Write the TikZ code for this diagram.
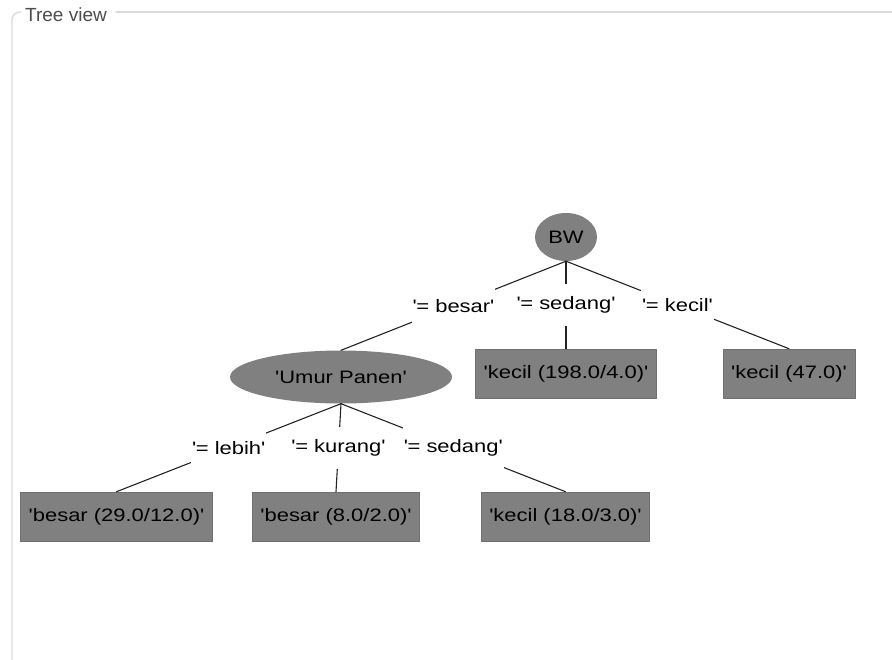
\documentclass[tikz,border=0pt]{standalone}
\usepackage{fontspec}
\setmainfont{Liberation Sans}
\newfontfamily\treefont[FakeStretch=1.22,Ligatures=TeXOff]{Liberation Sans}
\usetikzlibrary{shapes.geometric}
\definecolor{nodegray}{RGB}{128,128,128}
\definecolor{edgegray}{RGB}{35,35,35}
\definecolor{framegray}{RGB}{218,218,218}
\newcommand{\eqs}{'\kern-0.02em=}

\begin{document}
\begin{tikzpicture}[x=1pt, y=-1pt, font=\treefont\fontsize{18}{20}\selectfont, line join=round, line cap=round,
	attr/.style={ellipse, fill=nodegray, inner sep=0pt},
	leaf/.style={rectangle, fill=nodegray, draw={rgb,255:red,112;green,112;blue,112}, line width=0.6pt, minimum height=49pt, inner xsep=8pt},
	branch/.style={fill=white, inner xsep=1pt, minimum height=42pt},
	edge/.style={draw=edgegray, line width=1.1pt}]
			\clip (0,0) rectangle (892,659);
			% panel frame
			\draw[framegray, line width=1.4pt, rounded corners=8pt] (12,662) |- (21,12);
			\draw[framegray, line width=1.4pt] (116,12) -- (892,12);
			\node[anchor=base west, inner sep=0pt, text=black!70, font=\rmfamily\fontsize{19}{22}\selectfont] (title) at (25,21) {Tree view};
			% nodes
			\node[attr, minimum width=62pt, minimum height=48pt] (bw) at (566,237) {BW};
			\node[attr, minimum width=222pt, minimum height=53pt] (umur) at (341,377) {'Umur Panen'};
			\node[leaf] (k198) at (566,373.5) {'kecil (198.0/4.0)'};
			\node[leaf] (k47) at (789,373.5) {'kecil (47.0)'};
			\node[leaf] (b29) at (116.5,516.5) {'besar (29.0/12.0)'};
			\node[leaf] (b8) at (336,516.5) {'besar (8.0/2.0)'};
			\node[leaf] (k18) at (565.5,516.5) {'kecil (18.0/3.0)'};
			% edges
			\draw[edge] (bw.south) -- node[branch] (lbesar) {\eqs\ besar'} (umur.north);
			\draw[edge] (bw.south) -- node[branch] (lsedang) {\eqs\ sedang'} (k198.north);
			\draw[edge] (bw.south) -- node[branch] (lkecil) {\eqs\ kecil'} (k47.north);
			\draw[edge] (umur.south) -- node[branch] (llebih) {\eqs\ lebih'} (b29.north);
			\draw[edge] (umur.south) -- node[branch] (lkurang) {\eqs\ kurang'} (b8.north);
			\draw[edge] (umur.south) -- node[branch] (lsedang2) {\eqs\ sedang'} (k18.north);
\end{tikzpicture}
\end{document}
